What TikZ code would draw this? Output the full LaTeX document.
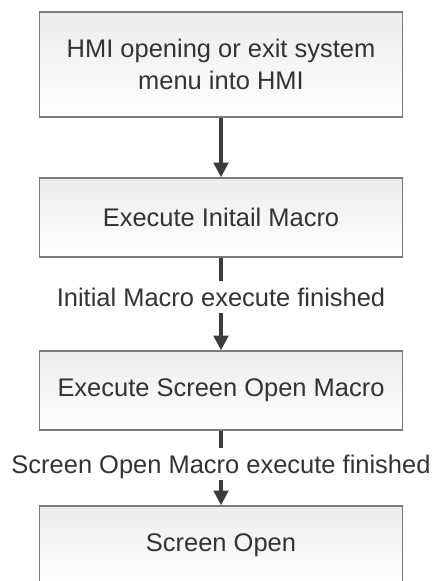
\documentclass[tikz,border=0pt]{standalone}
\usepackage{fontspec}
\setmainfont{Liberation Sans}
\usetikzlibrary{arrows.meta}

\definecolor{boxline}{RGB}{122,122,122}
\definecolor{boxtop}{RGB}{236,236,236}
\definecolor{inkgray}{RGB}{51,51,51}
\definecolor{flowgray}{RGB}{60,60,60}

\begin{document}
\begin{tikzpicture}[x=0.75pt,y=0.75pt,yscale=-1,xscale=1,
  stepbox/.style={draw=boxline,line width=1.2pt,top color=boxtop,bottom color=white,
    minimum width=272pt,inner sep=0pt,align=center,text=inkgray,
    font=\fontsize{19.1}{24}\selectfont},
  note/.style={inner sep=5pt,text height=13.5pt,text depth=0pt,text=inkgray,
    font=\fontsize{19.1}{24}\selectfont},
  flow/.style={draw=flowgray,line width=2.4pt},
  flowtip/.style={flow,-{Triangle[length=11pt,width=11pt]}}]
\clip (0,0) rectangle (433,581);

% boxes
\node [stepbox,minimum height=78.75pt] (hmi) at (221,64.5) {HMI opening or exit system\\menu into HMI};
\node [stepbox,minimum height=59.25pt] (init) at (221,217.5) {Execute Initail Macro};
\node [stepbox,minimum height=59.25pt] (scrmacro) at (221,390.5) {Execute Screen Open Macro};
\node [stepbox,minimum height=58.5pt] (scr) at (221,545) {Screen Open};

% labels on the links
\node [note] (initdone) at (221,297) {Initial Macro execute finished};
\node [note] (scrdone) at (221,464) {Screen Open Macro execute finished};

% links
\draw [flowtip] (hmi) -- (init);
\draw [flow] (init) -- (initdone);
\draw [flowtip] (initdone) -- (scrmacro);
\draw [flow] (scrmacro) -- (scrdone);
\draw [flowtip] (scrdone) -- (scr);

\end{tikzpicture}
\end{document}
